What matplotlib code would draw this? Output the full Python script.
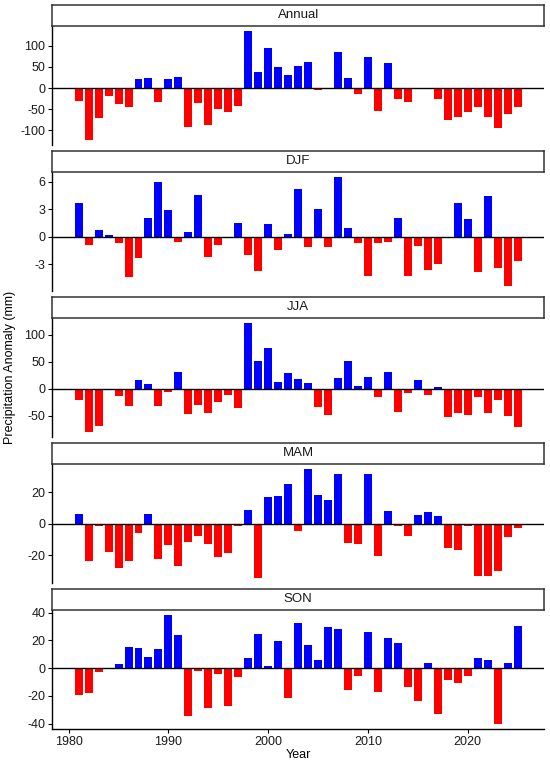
import matplotlib
matplotlib.use("Agg")
import matplotlib.pyplot as plt
import numpy as np

plt.rcParams['font.family'] = ['Liberation Sans', 'DejaVu Sans']

years = list(range(1981, 2026))

annual = [-30, -122, -70, -18, -38, -44, 21, 25, -34, 21, 27, -93, -36, -87, -50, -57, -42,
          135, 38, 96, 50, 32, 52, 61, -5, -3, 86, 25, -14, 74, -54, 60, -25, -33, -0.5, -3,
          -27, -76, -69, -56, -45, -69, -94, -62, -45]
djf = [3.7, -0.9, 0.7, 0.2, -0.7, -4.4, -2.35, 2.0, 6.0, 2.9, -0.6, 0.5, 4.6, -2.25, -0.9,
       -0.2, 1.5, -2.0, -3.8, 1.4, -1.45, 0.3, 5.2, -1.15, 3.05, -1.15, 6.5, 0.95, -0.75,
       -4.3, -0.75, -0.55, 2.05, -4.3, -1.0, -3.7, -2.95, 0.0, 3.7, 1.95, -3.85, 4.45, -3.4,
       -5.35, -2.7]
jja = [-21, -79, -68, -0.5, -13, -32, 16, 8, -32, -6, 31, -47, -30, -44, -24, -11, -36,
       121, 51, 76, 13, 29, 18, 10, -33, -48, 20, 52, 5, 21, -15, 30, -43, -7, 17, -11, 4,
       -52, -45, -49, -15, -45, -20, -51, -71]
mam = [6, -24, -1.3, -18, -28, -24, -6, 6, -22.7, -13.5, -27, -11.8, -8.1, -12.8, -21,
       -18.6, -1.7, 8.8, -34.3, 16.9, 17.6, 25, -4.5, 34.7, 18.2, 15.2, 31.7, -12, -13, 31.5,
       -20.8, 8.1, -1.5, -7.7, 5.6, 7.5, 4.9, -15.8, -16.5, -1.7, -33.2, -33.6, -29.8, -8.6,
       -3]
son = [-19.3, -18, -3.1, 0.3, 3.1, 15.5, 14.3, 8.2, 13.8, 38.2, 23.7, -34.5, -2.2, -28.7,
       -4.1, -27.3, -6.3, 7, 24.6, 1.4, 19.8, -21.7, 32.6, 16.9, 6, 29.7, 28, -15.9, -5.6,
       26.1, -17.1, 21.7, 18.4, -13.3, -23.4, 3.4, -33.3, -8.7, -10.4, -6, 7.2, 5.6, -40,
       3.9, 30.7]

panel_names = ["Annual", "DJF", "JJA", "MAM", "SON"]
panel_data = [annual, djf, jja, mam, son]
panel_ticks = [[-100, -50, 0, 50, 100], [-3, 0, 3, 6], [-50, 0, 50, 100], [-20, 0, 20],
               [-40, -20, 0, 20, 40]]
x_ticks = [1980, 1990, 2000, 2010, 2020]

W, H = 550, 764
fig = plt.figure(figsize=(W / 100, H / 100), dpi=100)

left_px, right_px = 52.3, 544
pitch = 146
strip_top0, strip_h, panel_h = 5, 20.7, 119.3
fs = 9

for i, (name, vals, ticks) in enumerate(zip(panel_names, panel_data, panel_ticks)):
    st = strip_top0 + pitch * i
    sb = st + strip_h
    pb = sb + panel_h
    # panel
    ax = fig.add_axes([left_px / W, 1 - pb / H, (right_px - left_px) / W, panel_h / H])
    ax.patch.set_alpha(0)
    v = np.array(vals, dtype=float)
    colors = ['#0000FF' if x > 0 else '#FF0000' for x in v]
    ax.bar(years, v, width=0.8, color=colors, linewidth=0)
    ax.axhline(0, color='black', linewidth=1.0, zorder=3)
    ax.margins(x=0.05, y=0.05)
    ax.set_yticks(ticks)
    ax.set_yticklabels([str(t) for t in ticks])
    ax.spines['top'].set_visible(False)
    ax.spines['right'].set_visible(False)
    ax.spines['left'].set_linewidth(1.0)
    ax.spines['left'].set_color('black')
    ax.tick_params(axis='y', length=3, width=0.8, labelsize=fs, labelcolor='#1a1a1a',
                   pad=2)
    if i == len(panel_names) - 1:
        ax.spines['bottom'].set_linewidth(1.0)
        ax.spines['bottom'].set_color('black')
        ax.set_xticks(x_ticks)
        ax.tick_params(axis='x', length=3, width=0.8, labelsize=fs, labelcolor='#1a1a1a',
                       pad=2)
        ax.set_xlabel("Year", fontsize=fs, labelpad=1)
    else:
        ax.spines['bottom'].set_visible(False)
        ax.set_xticks([])
    # strip
    sax = fig.add_axes([left_px / W, 1 - sb / H, (right_px - left_px) / W, strip_h / H])
    sax.set_xticks([])
    sax.set_yticks([])
    sax.set_zorder(5)
    for sp in sax.spines.values():
        sp.set_linewidth(1.1)
        sp.set_color('#333333')
    sax.text(0.5, 0.5, name, ha='center', va='center', fontsize=9.5, color='#1a1a1a',
             transform=sax.transAxes)

fig.text(10 / W, 1 - 367 / H, "Precipitation Anomaly (mm)", rotation=90, ha='center',
         va='center', fontsize=fs, color='black')

fig.savefig("out.png", dpi=100)
